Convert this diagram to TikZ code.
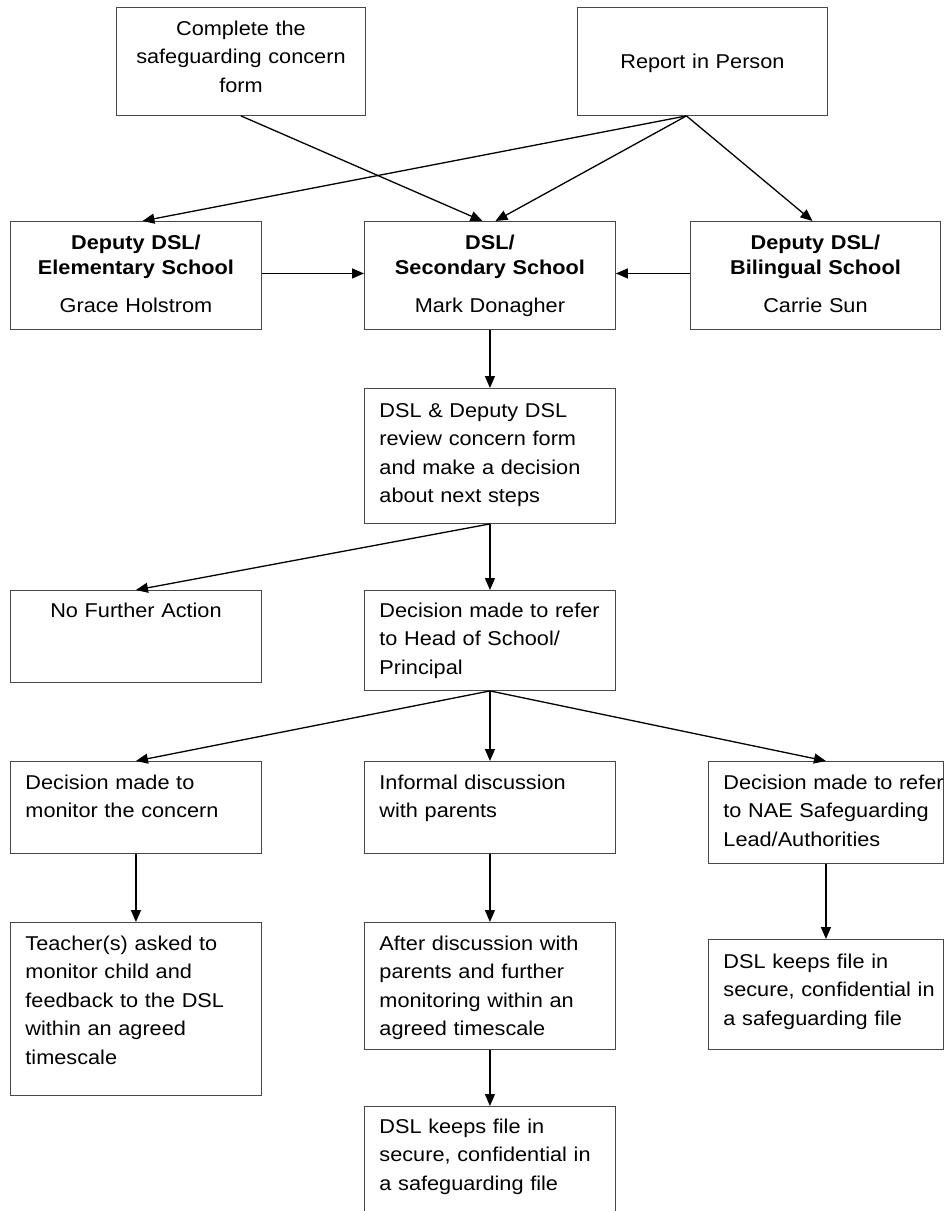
\documentclass[tikz,border=0pt]{standalone}
\usepackage{fontspec}
\setmainfont{Liberation Sans}[FakeStretch=1.085]
\usetikzlibrary{arrows.meta}
\begin{document}
\begin{tikzpicture}[x=1pt,y=-1pt,
  box/.style n args={3}{draw=black!72, line width=0.9pt, anchor=north west,
    inner xsep=15pt, inner ysep=0pt, text width=#1, text height=#2, text depth=#3,
    font=\fontsize{20}{28.5}\selectfont,
    execute at begin node={\hyphenpenalty=10000\exhyphenpenalty=10000}},
  lbox/.style n args={3}{box={#1}{#2}{#3}, align=left},
  cbox/.style n args={3}{box={#1}{#2}{#3}, align=center},
  arr/.style={draw=black, line width=1.3pt, -{Triangle[length=12pt,width=10pt]}}
]
\useasboundingbox (0,0) rectangle (946,1211);

% top row
\node[cbox={219pt}{28pt}{80pt}] (A) at (116,7) {Complete~the\\safeguarding~concern\\form};
\node[cbox={220pt}{61pt}{47pt}] (B) at (577,7) {Report~in~Person};

% second row
\node[cbox={221pt}{28pt}{80pt}] (E) at (10,221) {\textbf{Deputy~DSL/}\\[-3.5pt]\textbf{Elementary~School}\\[9.5pt]Grace~Holstrom};
\node[cbox={221pt}{28pt}{80pt}] (S) at (364,221) {\textbf{DSL/}\\[-3.5pt]\textbf{Secondary~School}\\[9.5pt]Mark~Donagher};
\node[cbox={220pt}{28pt}{80pt}] (L) at (690,221) {\textbf{Deputy~DSL/}\\[-3.5pt]\textbf{Bilingual~School}\\[9.5pt]Carrie~Sun};

% review
\node[lbox={221pt}{29pt}{106pt}] (R) at (364,388) {DSL~\&~Deputy~DSL\\review~concern~form\\and~make~a~decision\\about~next~steps};

% decision row
\node[cbox={221pt}{27pt}{65pt}] (N) at (10,590) {No~Further~Action};
\node[lbox={221pt}{27pt}{73pt}] (D) at (364,590) {Decision~made~to~refer\\to~Head~of~School/\\Principal};

% fourth row
\node[lbox={221pt}{28pt}{64pt}] (M) at (10,761) {Decision~made~to\\monitor~the~concern};
\node[lbox={221pt}{28pt}{64pt}] (I) at (364,761) {Informal~discussion\\with~parents};
\node[lbox={205pt}{28pt}{74pt}] (K) at (708,761) {Decision~made~to~refer\\to~NAE~Safeguarding\\Lead/Authorities};

% fifth row
\node[lbox={221pt}{28pt}{145pt}] (T) at (10,922) {Teacher(s)~asked~to\\monitor~child~and\\feedback~to~the~DSL\\within~an~agreed\\timescale};
\node[lbox={221pt}{28pt}{99pt}] (F) at (364,922) {After~discussion~with\\parents~and~further\\monitoring~within~an\\agreed~timescale};
\node[lbox={205pt}{29pt}{81pt}] (Q) at (708,939) {DSL~keeps~file~in\\secure,~confidential~in\\a~safeguarding~file};

% last
\node[lbox={221pt}{27pt}{85pt}] (P) at (364,1106) {DSL~keeps~file~in\\secure,~confidential~in\\a~safeguarding~file};

% connectors
\draw[arr] (A.south) -- ([xshift=-7.5pt]S.north);
\draw[arr] ([xshift=-16pt]B.south) -- ([xshift=6.5pt]E.north);
\draw[arr] ([xshift=-16pt]B.south) -- ([xshift=5.5pt]S.north);
\draw[arr] ([xshift=-16pt]B.south) -- ([xshift=-3pt]L.north);
\draw[arr] ([yshift=2pt]E.east) -- ([yshift=2pt]S.west);
\draw[arr] ([yshift=2pt]L.west) -- ([yshift=2pt]S.east);
\draw[arr] (S.south) -- (R.north);
\draw[arr] (R.south) -- (N.north);
\draw[arr] (R.south) -- (D.north);
\draw[arr] (D.south) -- (M.north);
\draw[arr] (D.south) -- (I.north);
\draw[arr] (D.south) -- (K.north);
\draw[arr] (M.south) -- (T.north);
\draw[arr] (I.south) -- (F.north);
\draw[arr] (K.south) -- (Q.north);
\draw[arr] (F.south) -- (P.north);
\end{tikzpicture}
\end{document}
